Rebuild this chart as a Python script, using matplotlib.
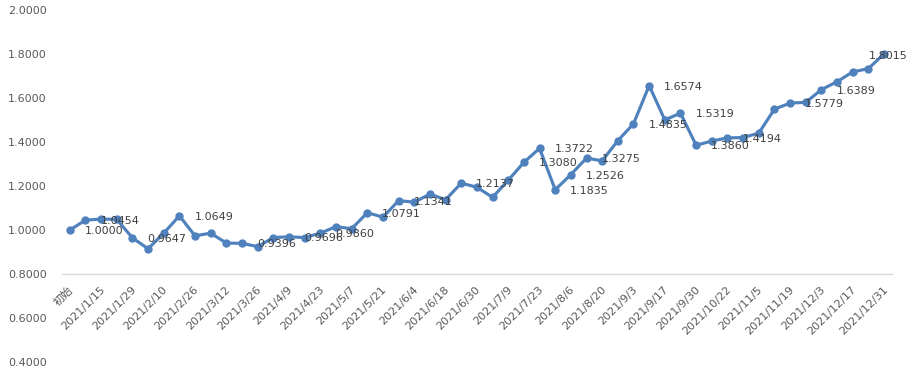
import numpy as np
import matplotlib.pyplot as plt
import matplotlib.transforms as mtransforms

plt.rcParams['font.family'] = ['DejaVu Sans', 'Noto Sans CJK SC']

# weekly dates (every other one shown on the axis)
dates = ['初始', '2021/1/8', '2021/1/15', '2021/1/22', '2021/1/29', '2021/2/5',
         '2021/2/10', '2021/2/19', '2021/2/26', '2021/3/5', '2021/3/12', '2021/3/19',
         '2021/3/26', '2021/4/2', '2021/4/9', '2021/4/16', '2021/4/23', '2021/4/30',
         '2021/5/7', '2021/5/14', '2021/5/21', '2021/5/28', '2021/6/4', '2021/6/11',
         '2021/6/18', '2021/6/25', '2021/6/30', '2021/7/2', '2021/7/9', '2021/7/16',
         '2021/7/23', '2021/7/30', '2021/8/6', '2021/8/13', '2021/8/20', '2021/8/27',
         '2021/9/3', '2021/9/10', '2021/9/17', '2021/9/24', '2021/9/30', '2021/10/15',
         '2021/10/22', '2021/10/29', '2021/11/5', '2021/11/12', '2021/11/19',
         '2021/11/26', '2021/12/3', '2021/12/10', '2021/12/17', '2021/12/24',
         '2021/12/31']

nav = [1.0000, 1.0454, 1.0500, 1.0490, 0.9647, 0.9150, 0.9860, 1.0649, 0.9740,
       0.9860, 0.9410, 0.9396, 0.9250, 0.9660, 0.9696, 0.9660, 0.9860, 1.0160,
       1.0060, 1.0791, 1.0590, 1.1341, 1.1270, 1.1640, 1.1380, 1.2137, 1.1950,
       1.1490, 1.2270, 1.3080, 1.3722, 1.1835, 1.2526, 1.3275, 1.3150, 1.4070,
       1.4835, 1.6574, 1.5010, 1.5319, 1.3860, 1.4050, 1.4194, 1.4210, 1.4410,
       1.5500, 1.5779, 1.5810, 1.6389, 1.6750, 1.7195, 1.7345, 1.8015]

# points that carry a data label
labeled = [0, 1, 4, 7, 11, 14, 16, 19, 21, 25, 29, 30, 31, 32, 33, 36, 37, 39,
           40, 42, 46, 48, 52]

yticks = [0.4, 0.6, 0.8, 1.0, 1.2, 1.4, 1.6, 1.8, 2.0]

x = np.arange(len(nav))

fig = plt.figure(figsize=(9.11, 3.73), dpi=100)
ax = fig.add_axes([0.068, 0.0295, 0.911, 0.943])

ax.plot(x, nav, color='#4F81BD', lw=2.25, marker='o', ms=5,
        solid_joinstyle='round', zorder=3)

for i in labeled:
    if i == len(nav) - 1:
        ax.annotate('%.4f' % nav[i], (i, nav[i]), xytext=(4, -2),
                    textcoords='offset pixels', ha='center', va='center',
                    fontsize=8, color='#404040')
    else:
        ax.annotate('%.4f' % nav[i], (i, nav[i]), xytext=(15, -1),
                    textcoords='offset pixels', ha='left', va='center',
                    fontsize=8, color='#404040')

ax.set_xlim(-0.5, len(nav) - 0.5)
ax.set_ylim(0.4, 2.0)
ax.set_yticks(yticks)
ax.set_yticklabels(['%.4f' % v for v in yticks])
ax.set_xticks(x[::2])
ax.set_xticklabels(dates[::2])

for loc in ['top', 'right', 'left']:
    ax.spines[loc].set_visible(False)
ax.spines['bottom'].set_position(('data', 0.8))
ax.spines['bottom'].set_color('#d9d9d9')
ax.spines['bottom'].set_linewidth(1)

ax.tick_params(axis='y', length=0, pad=11, labelsize=8, labelcolor='#595959')
ax.tick_params(axis='x', length=0, pad=10, labelsize=8, labelcolor='#595959')

shift = mtransforms.ScaledTranslation(2 / 100, 0, fig.dpi_scale_trans)
for lab in ax.get_xticklabels():
    lab.set_rotation(45)
    lab.set_ha('right')
    lab.set_va('center')
    lab.set_rotation_mode('anchor')
    lab.set_transform(lab.get_transform() + shift)

fig.savefig('out.png', dpi=100)
